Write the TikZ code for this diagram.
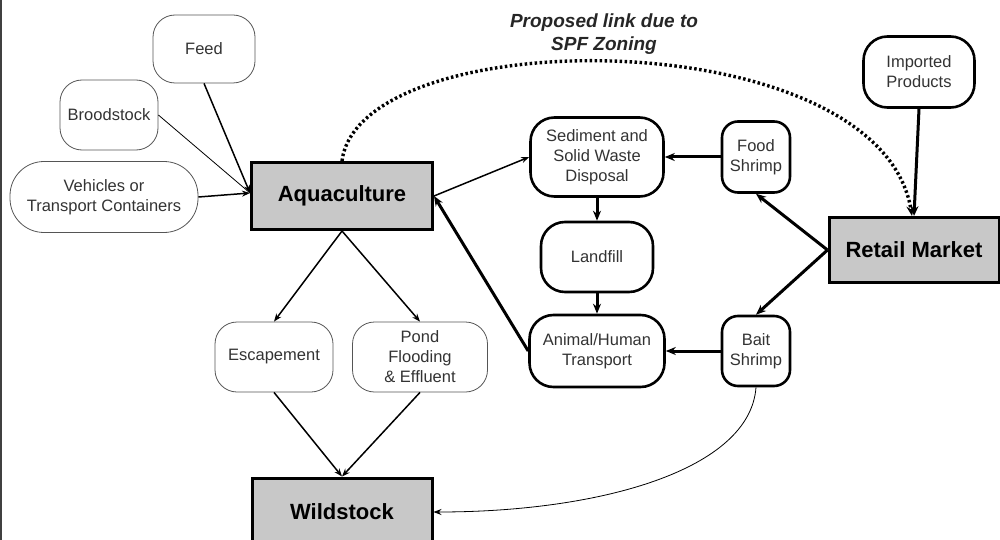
\documentclass[tikz,border=0pt]{standalone}
\usepackage{fontspec}
\setmainfont{Liberation Sans}
\usetikzlibrary{arrows.meta}
\definecolor{boxgray}{HTML}{C8C8C8}
\definecolor{edgegray}{HTML}{555555}
\definecolor{textgray}{HTML}{333333}
\begin{document}
\begin{tikzpicture}[x=1pt,y=-1pt,
  smalltext/.style={font=\fontsize{16.5}{20}\selectfont, text=textgray, align=center, inner sep=0pt},
  soft/.style={smalltext, draw=edgegray, line width=0.8pt, rounded corners=22pt},
  firm/.style={smalltext, draw, line width=2.6pt, rounded corners=24pt},
  main/.style={draw, line width=3pt, fill=boxgray, inner sep=0pt,
    font=\bfseries\fontsize{22}{26}\selectfont},
  tip/.style={-{Stealth[length=8pt,width=6pt]}},
  thin/.style={tip, line width=0.8pt},
  mid/.style={tip, line width=1.5pt},
  heavy/.style={-{Stealth[length=10pt,width=8pt]}, line width=3pt}
]
\useasboundingbox (0,0) rectangle (1000,540);
\clip (0,0) rectangle (1000,540);

% left frame edge
\draw[line width=2.5pt, black!75] (1,0) -- (1,540);

% inputs to aquaculture
\node[soft, minimum width=102pt, minimum height=68pt] (feed) at (204,49) {Feed};
\node[soft, minimum width=98pt, minimum height=70pt] (brood) at (109,115) {Broodstock};
\node[soft, rounded corners=34pt, minimum width=188pt, minimum height=71pt] (veh) at (104,197) {Vehicles or\\Transport Containers};

% main boxes
\node[main, minimum width=181pt, minimum height=67pt] (aqua) at (342,196) {Aquaculture};
\node[main, minimum width=170pt, minimum height=65pt] (retail) at (914,250) {Retail Market};
\node[main, minimum width=180pt, minimum height=68pt] (wild) at (342,512) {Wildstock};

% waste and transport chain
\node[firm, minimum width=133pt, minimum height=79pt] (sed) at (597,157) {Sediment and\\Solid Waste\\Disposal};
\node[firm, minimum width=112pt, minimum height=70pt] (land) at (597,257) {Landfill};
\node[firm, minimum width=135pt, minimum height=72pt] (trans) at (597,351) {Animal/Human\\Transport};

% shrimp products
\node[firm, rounded corners=16pt, minimum width=68pt, minimum height=71pt] (food) at (756,157) {Food\\Shrimp};
\node[firm, rounded corners=16pt, minimum width=68pt, minimum height=70pt] (bait) at (756,351) {Bait\\Shrimp};
\node[firm, minimum width=111pt, minimum height=71pt] (imp) at (919,72) {Imported\\Products};

% pathways to wildstock
\node[soft, minimum width=118pt, minimum height=70pt] (esc) at (274,357) {Escapement};
\node[soft, minimum width=135pt, minimum height=70pt] (pond) at (420,357) {Pond\\Flooding\\\& Effluent};

% proposed link
\node[font=\bfseries\itshape\fontsize{19}{23}\selectfont, text=black!85, align=center, inner sep=0pt] (prop) at (604,34) {Proposed link due to\\SPF Zoning};

% connectors into aquaculture
\coordinate (aquain) at ([yshift=3pt]aqua.west);
\draw[mid] (feed.south) -- (aquain);
\draw[line width=0.8pt] (brood.east) -- (aquain);
\draw[mid] (veh.east) -- (aquain);

\draw[mid] (aqua.east) -- (sed.west);
\draw[heavy] (trans.west) -- (aqua.east);
\draw[heavy] (sed.south) -- (land.north);
\draw[heavy] (land.south) -- (trans.north);
\draw[heavy] (food.west) -- (sed.east);
\draw[heavy] (bait.west) -- (trans.east);
\draw[heavy] (retail.west) -- (food.south);
\draw[heavy] (retail.west) -- (bait.north);
\draw[heavy] (imp.south) -- (retail.north);

\draw[mid] (aqua.south) -- (esc.north);
\draw[mid] (aqua.south) -- (pond.north);
\draw[mid] (esc.south) -- (wild.north);
\draw[mid] (pond.south) -- (wild.north);
\draw[thin] (bait.south) .. controls (750,470) and (600,512) .. (wild.east);

% proposed SPF link
\draw[line width=3.4pt, dash pattern=on 2.5pt off 2.5pt, -{Stealth[length=10pt,width=8pt]}]
  (aqua.north) .. controls (360,20) and (880,20) .. ([xshift=-2pt]retail.north);
\end{tikzpicture}
\end{document}
